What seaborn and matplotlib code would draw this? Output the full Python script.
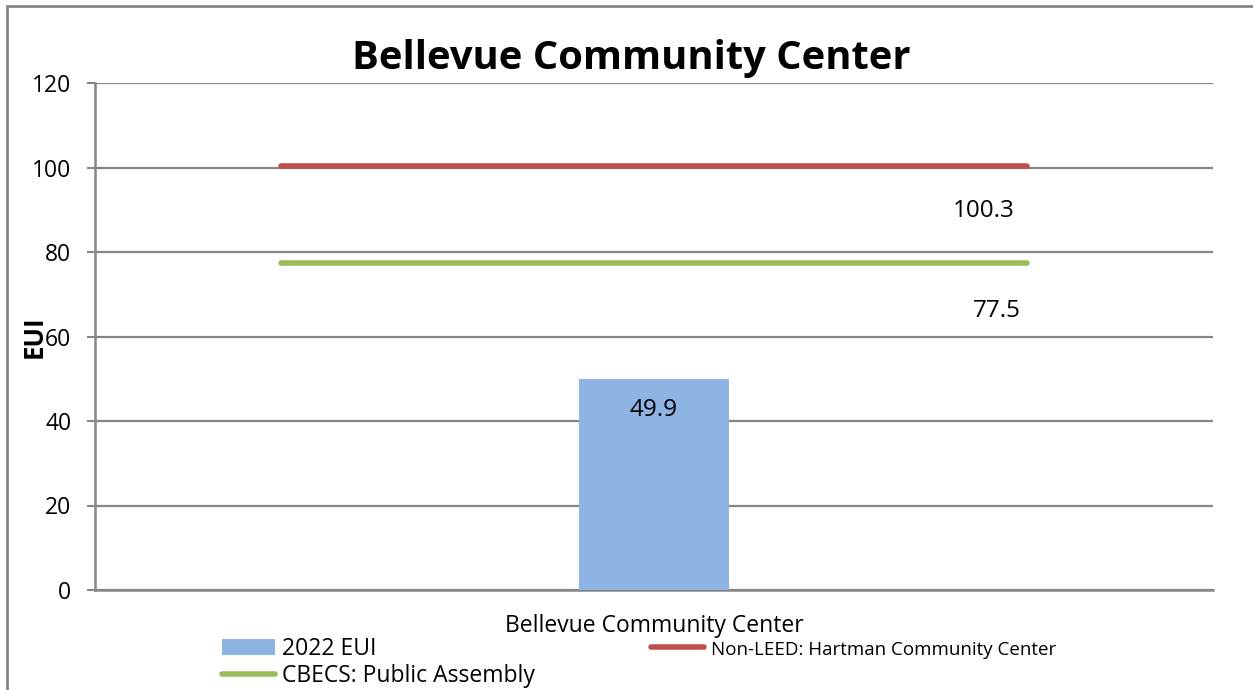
import matplotlib
matplotlib.use("Agg")
import matplotlib.pyplot as plt
import seaborn as sns
import numpy as np
from matplotlib.lines import Line2D
from matplotlib.patches import Patch

# ---- data ----
title = "Bellevue Community Center"
categories = [" ", "Bellevue Community Center", "  "]
bar_category = "Bellevue Community Center"
bar_label = "2022 EUI"
bar_value = 49.9
bench_labels = ["Non-LEED: Hartman Community Center", "CBECS: Public Assembly"]
bench_values = [100.3, 77.5]
y_ticks = [0, 20, 40, 60, 80, 100, 120]

BAR_C = "#8EB4E3"
RED = "#C0504D"
GREEN = "#9BBB59"
GRID = "#868686"

sns.set_style("white")
plt.rcParams["font.family"] = ["Open Sans", "DejaVu Sans"]
plt.rcParams["text.color"] = "black"
plt.rcParams["axes.labelcolor"] = "black"
plt.rcParams["xtick.color"] = "black"
plt.rcParams["ytick.color"] = "black"

W, H = 1253, 690
fig = plt.figure(figsize=(W / 100, H / 100), dpi=100)
ax = fig.add_axes([95 / W, 1 - 590 / H, (1213 - 95) / W, (590 - 83) / H])

sns.barplot(x=[bar_category], y=[bar_value], order=categories, color=BAR_C,
            width=0.4, saturation=1, ax=ax, zorder=3, linewidth=0, edgecolor=BAR_C)

bench_colors = [RED, GREEN]
for lab, v, c in zip(bench_labels, bench_values, bench_colors):
    sns.lineplot(x=[0, 2], y=[v, v], color=c, linewidth=4, ax=ax,
                 solid_capstyle="round", zorder=4)

ax.set_xlim(-0.5, 2.5)
ax.set_ylim(0, 120)
ax.set_yticks(y_ticks)
ax.set_yticklabels([str(t) for t in y_ticks], fontsize=16.5)
ax.set_xticks([1])
ax.set_xticklabels([bar_category], fontsize=16.5)
ax.set_xticks([-0.5, 0.5, 1.5, 2.5], minor=True)
ax.tick_params(axis="x", which="major", length=0, pad=17)
ax.tick_params(axis="x", which="minor", length=6, width=1.5, color=GRID, direction="out")
ax.tick_params(axis="y", length=6, width=1.5, color=GRID, labelcolor="black",
               direction="out", pad=11, left=True)
ax.set_xlabel("")
ax.set_ylabel("EUI", fontsize=18.5, fontweight="bold", labelpad=-11)

ax.grid(axis="y", color=GRID, linewidth=1.6, zorder=0)
ax.set_axisbelow(True)
for s in ["top", "right"]:
    ax.spines[s].set_visible(False)
for s in ["left", "bottom"]:
    ax.spines[s].set_color(GRID)
    ax.spines[s].set_linewidth(1.8)

# data labels
ax.annotate(f"{bar_value}", (1, bar_value), xytext=(0, -22), textcoords="offset points",
            ha="center", va="center", fontsize=17.5)
label_offsets = [(-31, -32), (-21.5, -35)]
for v, off in zip(bench_values, label_offsets):
    ax.annotate(f"{v}", (2, v), xytext=off, textcoords="offset points",
                ha="center", va="center", fontsize=17.5)

fig.text(631 / W, 1 - 59 / H, title, ha="center", va="center",
         fontsize=28.7, fontweight="bold")

# legend
handles = [Patch(facecolor=BAR_C, edgecolor="none"),
           Line2D([0], [0], color=GREEN, linewidth=4, solid_capstyle="round"),
           Line2D([0], [0], color=RED, linewidth=4, solid_capstyle="round")]
labels = [bar_label, bench_labels[1], bench_labels[0]]
leg = fig.legend(handles, labels, ncol=2, loc="upper left",
                 bbox_to_anchor=(222 / W, 1 - 637 / H), frameon=False,
                 fontsize=16.5, handlelength=2.3, handletextpad=0.3, handleheight=0.7,
                 columnspacing=5.1, labelspacing=0.12, borderpad=0, borderaxespad=0)
leg.get_texts()[2].set_fontsize(13.5)

# outer frame (partially cropped)
fig.add_artist(Line2D([7 / W, 7 / W], [0, 1 - 6 / H], color=GRID, linewidth=2,
                      transform=fig.transFigure))
fig.add_artist(Line2D([7 / W, 1], [1 - 6 / H, 1 - 6 / H], color=GRID, linewidth=2,
                      transform=fig.transFigure))

fig.savefig("out.png", dpi=100)
